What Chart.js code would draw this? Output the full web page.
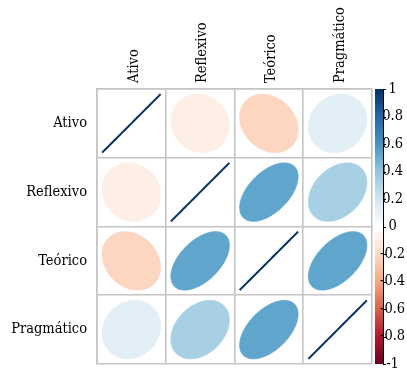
<!DOCTYPE html>
<html>
<head>
<meta charset="utf-8">
<script src="https://cdn.jsdelivr.net/npm/chart.js@4.4.1/dist/chart.umd.min.js"></script>
<style>
  html, body { margin: 0; padding: 0; background: #ffffff; }
  #wrap { width: 407px; height: 371px; }
</style>
</head>
<body>
<div id="wrap"><canvas id="corr"></canvas></div>
<script>
// Variables (matrix rows / columns)
const variables = ['Ativo', 'Reflexivo', 'Teórico', 'Pragmático'];

// Correlation matrix, one row per variable
const corAtivo      = [1.00, -0.09, -0.22, 0.12];
const corReflexivo  = [-0.09, 1.00, 0.53, 0.33];
const corTeorico    = [-0.22, 0.53, 1.00, 0.53];
const corPragmatico = [0.12, 0.33, 0.53, 1.00];
const corRows = [corAtivo, corReflexivo, corTeorico, corPragmatico];

// Colour legend ticks
const legendTicks = [-1, -0.8, -0.6, -0.4, -0.2, 0, 0.2, 0.4, 0.6, 0.8, 1];

// Diverging red–blue palette from -1 to 1
const paletteStops = ['#67001F', '#B2182B', '#D6604D', '#F4A582', '#FDDBC7', '#FFFFFF',
                      '#D1E5F0', '#92C5DE', '#4393C3', '#2166AC', '#053061'];

function hexToRgb(h) {
  return [parseInt(h.slice(1, 3), 16), parseInt(h.slice(3, 5), 16), parseInt(h.slice(5, 7), 16)];
}
function colourFor(v) {
  const pos = (Math.max(-1, Math.min(1, v)) + 1) / 2 * (paletteStops.length - 1);
  const i = Math.min(paletteStops.length - 2, Math.floor(pos));
  const f = pos - i;
  const a = hexToRgb(paletteStops[i]), b = hexToRgb(paletteStops[i + 1]);
  const c = a.map((x, k) => Math.round(x + (b[k] - x) * f));
  return `rgb(${c[0]},${c[1]},${c[2]})`;
}

// One point per cell, centred through the category scales
const cells = [];
corRows.forEach((row, r) => {
  row.forEach((v, c) => cells.push({ x: variables[c], y: variables[r], v: v }));
});

const ELL_SCALE = 0.85;

// Ellipse glyphs: shape and colour follow the correlation value
const ellipsePlugin = {
  id: 'corrEllipses',
  afterDatasetsDraw(chart) {
    const { ctx, scales } = chart;
    const xs = scales.x, ys = scales.y;
    const cw = Math.abs(xs.getPixelForValue(1) - xs.getPixelForValue(0));
    const ch = Math.abs(ys.getPixelForValue(1) - ys.getPixelForValue(0));
    const meta = chart.getDatasetMeta(0);
    const data = chart.data.datasets[0].data;
    meta.data.forEach((pt, i) => {
      const v = data[i].v;
      const a = Math.acos(Math.max(-1, Math.min(1, v))) / 2;
      const col = colourFor(v);
      ctx.save();
      ctx.beginPath();
      const N = 120;
      for (let k = 0; k <= N; k++) {
        const t = 2 * Math.PI * k / N;
        const px = pt.x + ELL_SCALE * cw * Math.cos(t + a) / 2;
        const py = pt.y - ELL_SCALE * ch * Math.cos(t - a) / 2;
        if (k === 0) ctx.moveTo(px, py); else ctx.lineTo(px, py);
      }
      ctx.closePath();
      ctx.fillStyle = col;
      ctx.fill();
      ctx.strokeStyle = col;
      ctx.lineWidth = Math.abs(v) >= 0.999 ? 2 : 0.8;
      ctx.stroke();
      ctx.restore();
    });
  }
};

// Colour bar drawn along the legend scale
const colourBarPlugin = {
  id: 'colourBar',
  beforeDraw(chart) {
    const { ctx, chartArea } = chart;
    const s = chart.scales.cb;
    const top = s.getPixelForValue(1), bottom = s.getPixelForValue(-1);
    const x0 = chartArea.right + 3, w = 8;
    const g = ctx.createLinearGradient(0, bottom, 0, top);
    paletteStops.forEach((c, i) => g.addColorStop(i / (paletteStops.length - 1), c));
    ctx.save();
    ctx.fillStyle = g;
    ctx.fillRect(x0, top, w, bottom - top);
    ctx.strokeStyle = '#000000';
    ctx.lineWidth = 1;
    ctx.beginPath();
    ctx.moveTo(x0 + w + 0.5, top);
    ctx.lineTo(x0 + w + 0.5, bottom);
    legendTicks.forEach(t => {
      const y = Math.round(s.getPixelForValue(t)) + 0.5;
      ctx.moveTo(x0 + w, y);
      ctx.lineTo(x0 + w + 3, y);
    });
    ctx.stroke();
    ctx.restore();
  }
};

Chart.defaults.font.family = "'DejaVu Serif Condensed', 'DejaVu Serif', serif";
Chart.defaults.color = '#000000';

const gridColour = '#C4C4C4';

new Chart(document.getElementById('corr'), {
  type: 'scatter',
  data: {
    datasets: [{
      data: cells,
      pointRadius: 0,
      pointHoverRadius: 0
    }]
  },
  options: {
    responsive: true,
    maintainAspectRatio: false,
    animation: false,
    events: [],
    layout: { padding: { top: 0, right: 0, bottom: 7, left: 0 } },
    plugins: { legend: { display: false }, tooltip: { enabled: false } },
    scales: {
      x: {
        type: 'category',
        labels: variables,
        position: 'top',
        offset: true,
        grid: { offset: true, color: gridColour, lineWidth: 1.6, drawTicks: false },
        border: { display: true, color: gridColour, width: 1.6 },
        ticks: { minRotation: 90, maxRotation: 90, padding: 6, labelOffset: 20, font: { size: 14.5 } },
        afterFit(scale) { scale.height = 89; scale.paddingLeft = 0; scale.paddingRight = 0; }
      },
      y: {
        type: 'category',
        labels: variables,
        offset: true,
        grid: { offset: true, color: gridColour, lineWidth: 1.6, drawTicks: false },
        border: { display: true, color: gridColour, width: 1.6 },
        ticks: { padding: 10, font: { size: 14.5 } },
        afterFit(scale) { scale.width = 97; scale.paddingTop = 0; scale.paddingBottom = 0; }
      },
      cb: {
        type: 'linear',
        position: 'right',
        min: -1,
        max: 1,
        grid: { display: false, drawTicks: false },
        border: { display: false },
        ticks: {
          padding: 8,
          crossAlign: 'center',
          font: { size: 14.5 },
          autoSkip: false,
          callback: v => String(Math.round(v * 10) / 10)
        },
        afterBuildTicks(scale) { scale.ticks = legendTicks.map(v => ({ value: v })); },
        afterFit(scale) { scale.width = 35; scale.paddingTop = 0; scale.paddingBottom = 0; }
      }
    }
  },
  plugins: [colourBarPlugin, ellipsePlugin]
});
</script>
</body>
</html>
